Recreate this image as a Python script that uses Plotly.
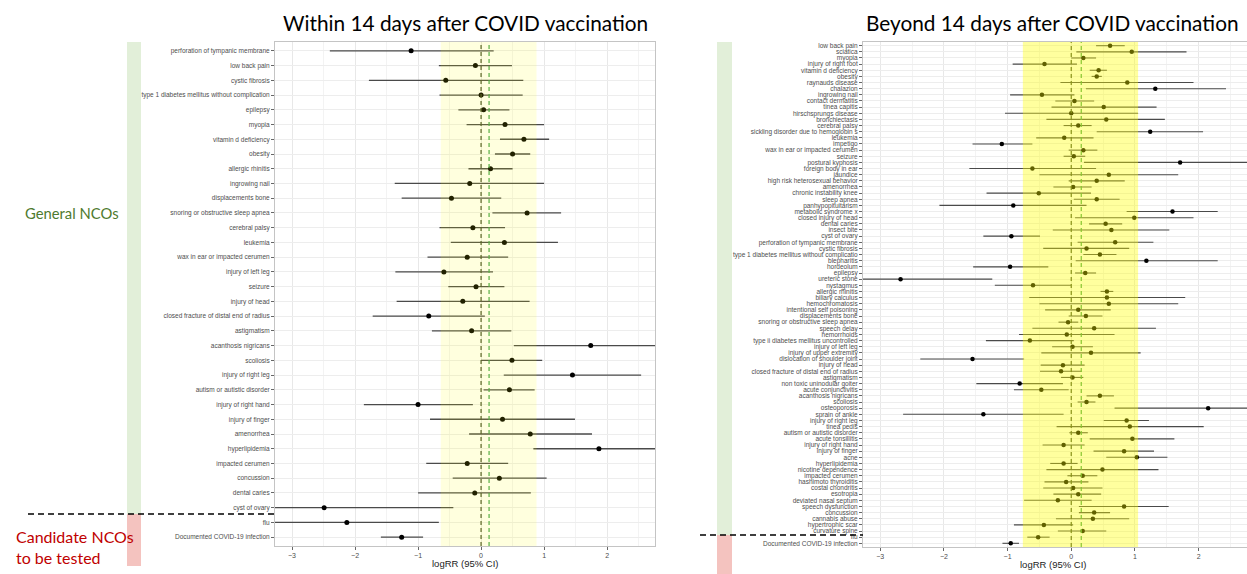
import plotly.graph_objects as go

W, H = 1247, 574

# ---------------- data: left panel (within 14 days) ----------------
left_labels = [
    "perforation of tympanic membrane", "low back pain", "cystic fibrosis",
    "type 1 diabetes mellitus without complication", "epilepsy", "myopia",
    "vitamin d deficiency", "obesity", "allergic rhinitis", "ingrowing nail",
    "displacements bone", "snoring or obstructive sleep apnea", "cerebral palsy",
    "leukemia", "wax in ear or impacted cerumen", "injury of left leg", "seizure",
    "injury of head", "closed fracture of distal end of radius", "astigmatism",
    "acanthosis nigricans", "scoliosis", "injury of right leg",
    "autism or autistic disorder", "injury of right hand", "injury of finger",
    "amenorrhea", "hyperlipidemia", "impacted cerumen", "concussion",
    "dental caries", "cyst of ovary", "flu", "Documented COVID-19 infection",
]
left_est = [-1.11, -0.09, -0.56, 0.00, 0.04, 0.38, 0.68, 0.50, 0.15, -0.18,
            -0.47, 0.73, -0.13, 0.37, -0.22, -0.59, -0.08, -0.29, -0.83, -0.15,
            1.74, 0.49, 1.45, 0.45, -1.00, 0.34, 0.78, 1.87, -0.22, 0.29,
            -0.10, -2.49, -2.13, -1.26]
left_lo = [-2.40, -0.67, -1.78, -0.66, -0.36, -0.23, 0.30, 0.22, -0.20, -1.37,
           -1.26, 0.18, -0.66, -0.48, -0.85, -1.36, -0.52, -1.34, -1.72, -0.78,
           0.52, 0.00, 0.36, 0.04, -1.86, -0.81, -0.19, 0.83, -0.87, -0.45,
           -1.00, -3.60, -3.60, -1.59]
left_hi = [0.20, 0.49, 0.67, 0.66, 0.45, 1.00, 1.08, 0.78, 0.50, 1.00,
           0.32, 1.27, 0.38, 1.22, 0.43, 0.19, 0.37, 0.77, 0.06, 0.48,
           3.00, 0.97, 2.54, 0.85, -0.13, 1.49, 1.76, 2.95, 0.43, 1.04,
           0.79, -0.44, -0.67, -0.92]

# ---------------- data: right panel (beyond 14 days) ----------------
right_labels = [
    "low back pain", "sciatica", "myopia", "injury of right foot",
    "vitamin d deficiency", "obesity", "raynauds disease", "chalazion",
    "ingrowing nail", "contact dermatitis", "tinea capitis",
    "hirschsprungs disease", "bronchiectasis", "cerebral palsy",
    "sickling disorder due to hemoglobin s",
    "leukemia", "impetigo", "wax in ear or impacted cerumen", "seizure",
    "postural kyphosis", "foreign body in ear", "jaundice",
    "high risk heterosexual behavior", "amenorrhea", "chronic instability knee",
    "sleep apnea", "panhypopituitarism", "metabolic syndrome x",
    "closed injury of head", "dental caries", "insect bite",
    "cyst of ovary", "perforation of tympanic membrane", "cystic fibrosis",
    "type 1 diabetes mellitus without complicatio", "blepharitis", "hordeolum",
    "epilepsy", "ureteric stone", "nystagmus", "allergic rhinitis",
    "biliary calculus", "hemochromatosis", "intentional self poisoning",
    "displacements bone", "snoring or obstructive sleep apnea",
    "speech delay", "hemorrhoids", "type ii diabetes mellitus uncontrolled",
    "injury of left leg", "injury of upper extremity",
    "dislocation of shoulder joint", "injury of head",
    "closed fracture of distal end of radius", "astigmatism",
    "non toxic uninodular goiter", "acute conjunctivitis",
    "acanthosis nigricans", "scoliosis", "osteoporosis", "sprain of ankle",
    "injury of right leg",
    "tinea pedis", "autism or autistic disorder", "acute tonsillitis",
    "injury of right hand", "injury of finger", "acne", "hyperlipidemia",
    "nicotine dependence", "impacted cerumen", "hashimoto thyroiditis",
    "costal chondritis", "esotropia", "deviated nasal septum",
    "speech dysfunction", "concussion", "cannabis abuse", "hypertrophic scar",
    "curvature spine", "flu", "Documented COVID-19 infection",
]
right_est = [0.61, 0.95, 0.19, -0.42, 0.43, 0.40, 0.88, 1.32, -0.46, 0.05,
             0.51, 0.00, 0.55, 0.11, 1.24,
             -0.11, -1.09, 0.19, 0.04, 1.71, -0.61, 0.59, 0.40, 0.03, -0.51,
             0.40, -0.91, 1.59, 0.99, 0.54, 0.63,
             -0.94, 0.69, 0.24, 0.45, 1.18, -0.96, 0.22, -2.68, -0.60, 0.56,
             0.56, 0.59, 0.11, 0.23, -0.05,
             0.36, -0.07, -0.65, 0.02, 0.31, -1.55, -0.13, -0.16, 0.02, -0.81,
             -0.47, 0.45, 0.24, 2.15, -1.38, 0.87,
             0.92, 0.11, 0.96, -0.12, 0.83, 1.03, -0.12, 0.49, 0.18, -0.08,
             0.03, 0.11, -0.21, 0.83, 0.36, 0.34, -0.43, 0.18, -0.52, -0.95]
right_lo = [0.39, 0.08, 0.00, -0.92, 0.29, 0.32, -0.17, 0.23, -0.96, -0.25,
            -0.31, -1.04, -0.39, -0.12, 0.40,
            -0.55, -1.55, -0.04, -0.12, 0.20, -1.60, -0.50, -0.04, -0.28, -1.33,
            0.04, -2.07, 0.87, 0.06, 0.28, -0.29,
            -1.38, 0.10, -0.44, 0.19, 0.07, -1.54, 0.06, -3.60, -1.20, 0.46,
            -0.66, -0.50, -0.41, -0.04, -0.20,
            -0.61, -0.82, -1.34, -0.30, -0.47, -2.37, -0.48, -0.49, -0.16, -1.49,
            -0.90, 0.24, 0.10, 0.68, -2.64, 0.51,
            -0.23, -0.03, 0.29, -0.45, 0.35, 0.55, -0.33, -0.39, -0.06, -0.42,
            -0.44, -0.28, -0.74, 0.12, 0.12, -0.24, -0.90, -0.21, -0.69, -1.08]
right_hi = [0.84, 1.81, 0.39, 0.09, 0.56, 0.48, 1.92, 2.43, 0.05, 0.36,
            1.34, 1.05, 1.47, 0.32, 2.07,
            0.35, -0.61, 0.41, 0.22, 3.10, 0.39, 1.68, 0.84, 0.32, 0.31,
            0.76, 0.24, 2.30, 1.92, 0.80, 1.54,
            -0.49, 1.29, 0.91, 0.71, 2.30, -0.36, 0.39, -1.24, 0.00, 0.66,
            1.79, 1.68, 0.62, 0.49, 0.11,
            1.33, 0.68, 0.04, 0.34, 1.09, -0.74, 0.21, 0.16, 0.19, -0.13,
            -0.04, 0.67, 0.38, 3.20, -0.12, 1.22,
            2.08, 0.26, 1.62, 0.21, 1.30, 1.51, 0.10, 1.37, 0.41, 0.27,
            0.49, 0.47, 0.32, 1.53, 0.61, 0.91, 0.03, 0.55, -0.34, -0.82]

x_ticks = [-3, -2, -1, 0, 1, 2]
left_refs = [0.0, 0.127]
right_refs = [0.0, 0.157]
left_band = [-0.64, 0.88]
right_band = [-0.76, 1.05]
xrange = [-3.27, 2.76]

# ---------------- figure ----------------
def px_x(p):
    return p / W

def px_y(p):
    return 1 - p / H

fig = go.Figure()


def add_panel(labels, est, lo, hi, xa, ya, lw, ms):
    xs, ys = [], []
    for lab, a, b in zip(labels, lo, hi):
        xs += [a, b, None]
        ys += [lab, lab, None]
    fig.add_trace(go.Scatter(x=xs, y=ys, mode="lines",
                             line=dict(color="#4a4a4a", width=lw),
                             xaxis=xa, yaxis=ya, hoverinfo="skip",
                             showlegend=False))
    fig.add_trace(go.Scatter(x=est, y=labels, mode="markers",
                             marker=dict(color="black", size=ms),
                             xaxis=xa, yaxis=ya, showlegend=False))


add_panel(left_labels, left_est, left_lo, left_hi, "x", "y", 1.3, 5)
add_panel(right_labels, right_est, right_lo, right_hi, "x2", "y2", 1.1, 4.5)

common_x = dict(range=xrange, tickvals=x_ticks, ticks="outside", ticklen=3,
                tickcolor="#666666", tickfont=dict(size=7, color="#4D4D4D",
                                                   family="Liberation Sans"),
                showgrid=True, gridcolor="#E8E8E8", gridwidth=0.8,
                minor=dict(dtick=0.5, showgrid=True, gridcolor="#F3F3F3",
                           gridwidth=0.6),
                zeroline=False, showline=True, mirror=True,
                linecolor="#C4C4C4", linewidth=1, fixedrange=True,
                automargin=False)


def y_axis(labels, dom, anchor, fsize):
    return dict(domain=dom, anchor=anchor, type="category",
                categoryorder="array", categoryarray=labels,
                tickmode="array", tickvals=labels, ticktext=labels,
                range=[len(labels) - 1 + 0.6, -0.6],
                ticks="outside", ticklen=3, tickcolor="#666666",
                tickfont=dict(size=fsize, color="#4D4D4D",
                              family="Liberation Sans"),
                showgrid=True, gridcolor="#EDEDED", gridwidth=0.8,
                showline=True, mirror=True, linecolor="#C4C4C4",
                zeroline=False, automargin=False, fixedrange=True)


fig.update_layout(
    width=W, height=H, margin=dict(l=0, r=0, t=0, b=0),
    paper_bgcolor="white", plot_bgcolor="white",
    xaxis=dict(domain=[px_x(275), px_x(655)], anchor="y", **common_x),
    xaxis2=dict(domain=[px_x(863), 1.0], anchor="y2", **common_x),
    yaxis=y_axis(left_labels, [px_y(546), px_y(42)], "x", 6.5),
    yaxis2=y_axis(right_labels, [px_y(547), px_y(42)], "x2", 6.5),
)

shapes = []
# reference dashed lines
for xa, ya, refs in (("x", "y", left_refs), ("x2", "y2", right_refs)):
    shapes.append(dict(type="line", xref=xa, yref=ya + " domain", x0=refs[0],
                       x1=refs[0], y0=0, y1=1, layer="above",
                       line=dict(color="#43502A", width=1.2, dash="4px,3px")))
    shapes.append(dict(type="line", xref=xa, yref=ya + " domain", x0=refs[1],
                       x1=refs[1], y0=0, y1=1, layer="above",
                       line=dict(color="#3FA34D", width=1.2, dash="4px,3px")))
# yellow bands on top
shapes.append(dict(type="rect", xref="x", yref="y domain", x0=left_band[0],
                   x1=left_band[1], y0=0, y1=1, layer="above",
                   fillcolor="rgba(255,255,0,0.13)", line=dict(width=0)))
shapes.append(dict(type="rect", xref="x2", yref="y2 domain", x0=right_band[0],
                   x1=right_band[1], y0=0, y1=1, layer="above",
                   fillcolor="rgba(255,255,0,0.38)", line=dict(width=0)))
# side bars (beneath the tick labels)
shapes += [
    dict(type="rect", xref="paper", yref="paper", x0=px_x(127), x1=px_x(141),
         y0=px_y(514), y1=px_y(42), fillcolor="#E2EFD9", line=dict(width=0),
         layer="below"),
    dict(type="rect", xref="paper", yref="paper", x0=px_x(127), x1=px_x(141),
         y0=px_y(566), y1=px_y(514), fillcolor="#F4C3BF", line=dict(width=0),
         layer="below"),
    dict(type="rect", xref="paper", yref="paper", x0=px_x(717), x1=px_x(732),
         y0=px_y(535), y1=px_y(42), fillcolor="#E2EFD9", line=dict(width=0),
         layer="below"),
    dict(type="rect", xref="paper", yref="paper", x0=px_x(717), x1=px_x(732),
         y0=0, y1=px_y(535), fillcolor="#F4C3BF", line=dict(width=0),
         layer="below"),
]
# separator dashed lines
shapes += [
    dict(type="line", xref="paper", yref="paper", x0=px_x(28), x1=px_x(275),
         y0=px_y(514), y1=px_y(514),
         line=dict(color="black", width=1.6, dash="6px,4px")),
    dict(type="line", xref="paper", yref="paper", x0=px_x(700), x1=px_x(863),
         y0=px_y(535), y1=px_y(535),
         line=dict(color="black", width=1.6, dash="6px,4px")),
]
fig.update_layout(shapes=shapes)

annotations = [
    dict(text="Within 14 days after COVID vaccination", x=px_x(465),
         y=px_y(22), xref="paper", yref="paper", showarrow=False,
         xanchor="center", yanchor="middle",
         font=dict(size=20.8, color="black", family="Lato")),
    dict(text="Beyond 14 days after COVID vaccination", x=px_x(1052),
         y=px_y(22), xref="paper", yref="paper", showarrow=False,
         xanchor="center", yanchor="middle",
         font=dict(size=20.8, color="black", family="Lato")),
    dict(text="General NCOs", x=px_x(72), y=px_y(213), xref="paper",
         yref="paper", showarrow=False, xanchor="center", yanchor="middle",
         font=dict(size=14.8, color="#4E7A2E", family="Lato")),
    dict(text="Candidate NCOs<br>to be tested", x=px_x(14), y=px_y(547),
         xref="paper", yref="paper", showarrow=False, xanchor="left",
         yanchor="middle", align="left",
         font=dict(size=16, color="#C00000", family="Lato")),
    dict(text="logRR (95% CI)", x=px_x(465), y=px_y(563), xref="paper",
         yref="paper", showarrow=False, xanchor="center", yanchor="middle",
         font=dict(size=9.5, color="#222222", family="Liberation Sans")),
    dict(text="logRR (95% CI)", x=px_x(1053), y=px_y(564), xref="paper",
         yref="paper", showarrow=False, xanchor="center", yanchor="middle",
         font=dict(size=9.5, color="#222222", family="Liberation Sans")),
]
fig.update_layout(annotations=annotations)

fig.write_html("out.html",
               config={"displayModeBar": False},
               post_script="document.body.style.margin='0';"
                           "document.body.style.padding='0';"
                           "document.body.style.overflow='hidden';")
